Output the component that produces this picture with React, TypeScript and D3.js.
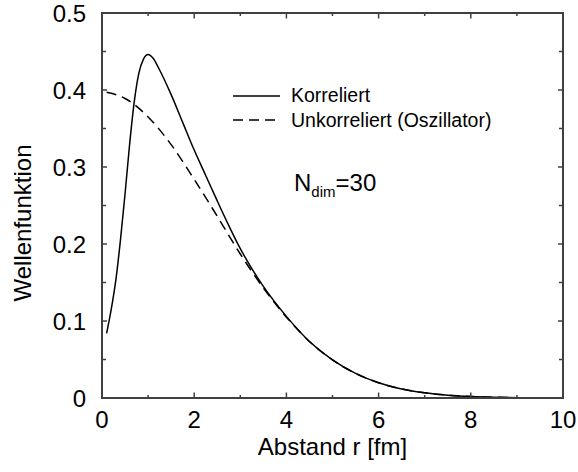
import React from "react";
import * as d3 from "d3";

const rCorr = [0.1, 0.2, 0.3, 0.4, 0.5, 0.6, 0.7, 0.8, 0.9, 1.0, 1.1, 1.25, 1.5, 1.75, 2.0, 2.25, 2.5, 2.75, 3.0, 3.25, 3.5, 4.0, 4.5, 5.0, 5.5, 6.0, 6.5, 7.0, 7.5, 8.0, 8.5, 9.0, 9.5, 10.0];
const psiCorr = [0.084, 0.115, 0.153, 0.205, 0.265, 0.33, 0.385, 0.422, 0.44, 0.446, 0.442, 0.426, 0.394, 0.358, 0.322, 0.289, 0.256, 0.224, 0.194, 0.168, 0.145, 0.106, 0.0734, 0.0494, 0.0319, 0.0198, 0.0118, 0.0067, 0.0037, 0.0019, 0.00096, 0.00046, 0.0002, 0.0001];

const rOsc = [0.1, 0.5, 1.0, 1.5, 2.0, 2.5, 3.0, 3.5, 4.0, 4.5, 5.0, 5.5, 6.0, 6.5, 7.0, 7.5, 8.0, 8.5, 9.0, 9.5, 10.0];
const psiOsc = [0.397, 0.389, 0.365, 0.329, 0.284, 0.236, 0.187, 0.143, 0.105, 0.0734, 0.0494, 0.0319, 0.0198, 0.0118, 0.0067, 0.0037, 0.0019, 0.00096, 0.00046, 0.0002, 0.0001];

const xTicks = [0, 1, 2, 3, 4, 5, 6, 7, 8, 9, 10];
const xLabels = [0, 2, 4, 6, 8, 10];
const yTicks = [0, 0.05, 0.1, 0.15, 0.2, 0.25, 0.3, 0.35, 0.4, 0.45, 0.5];
const yLabels = ["0", "0.1", "0.2", "0.3", "0.4", "0.5"];
const legendLabels = ["Korreliert", "Unkorreliert (Oszillator)"];

const W = 578, H = 472;
const L = 102, R = 563, T = 13, B = 398;
const font = "'Liberation Sans', Arial, Helvetica, sans-serif";
const axisColor = "#404040";

export default function App() {
  const x = d3.scaleLinear().domain([0, 10]).range([L, R]);
  const y = d3.scaleLinear().domain([0, 0.5]).range([B, T]);
  const line = d3.line<[number, number]>().x(d => x(d[0])).y(d => y(d[1])).curve(d3.curveMonotoneX);
  const corr = line(rCorr.map((r, i) => [r, psiCorr[i]] as [number, number])) || "";
  const osc = line(rOsc.map((r, i) => [r, psiOsc[i]] as [number, number])) || "";

  return (
    <svg width={W} height={H} style={{ position: "absolute", left: 0, top: 0, background: "#fff" }} fontFamily={font}>
      <path d={corr} fill="none" stroke="#000" strokeWidth={1.5} />
      <path d={osc} fill="none" stroke="#000" strokeWidth={1.5} strokeDasharray="10,6" />
      {xTicks.map(t => {
        const len = t % 2 === 0 ? 5.5 : 3;
        return (
          <g key={"xt" + t}>
            <line x1={x(t)} x2={x(t)} y1={B} y2={B - len} stroke={axisColor} strokeWidth={1.5} />
            <line x1={x(t)} x2={x(t)} y1={T} y2={T + len} stroke={axisColor} strokeWidth={1.5} />
          </g>
        );
      })}
      {yTicks.map((t, i) => {
        const len = i % 2 === 0 ? 5 : 4;
        return (
          <g key={"yt" + i}>
            <line x1={L} x2={L + len} y1={y(t)} y2={y(t)} stroke={axisColor} strokeWidth={1.5} />
            <line x1={R} x2={R - len} y1={y(t)} y2={y(t)} stroke={axisColor} strokeWidth={1.5} />
          </g>
        );
      })}
      <rect x={L} y={T} width={R - L} height={B - T} fill="none" stroke={axisColor} strokeWidth={2} />
      {xLabels.map(t => (
        <text key={"xl" + t} x={x(t)} y={428} textAnchor="middle" fontSize={24} fill="#000">{t}</text>
      ))}
      {yLabels.map((s, i) => (
        <text key={"yl" + i} x={86} y={y(i * 0.1) + 8.5} textAnchor="end" fontSize={24} fill="#000">{s}</text>
      ))}
      <text x={(L + R) / 2} y={455} textAnchor="middle" fontSize={24} fill="#000">Abstand r [fm]</text>
      <text transform={`translate(31,223) rotate(-90)`} textAnchor="middle" fontSize={24} fill="#000">Wellenfunktion</text>
      <line x1={233} x2={280} y1={96} y2={96} stroke="#000" strokeWidth={1.5} />
      <text x={291} y={102} fontSize={19.5} fill="#000">{legendLabels[0]}</text>
      <line x1={233} x2={280} y1={120} y2={120} stroke="#000" strokeWidth={1.5} strokeDasharray="10,6" />
      <text x={291} y={126.5} fontSize={19.5} fill="#000">{legendLabels[1]}</text>
      <text x={294} y={191} fontSize={24} fill="#000">
        N<tspan fontSize={15} dy={6}>dim</tspan><tspan dy={-6}>=30</tspan>
      </text>
    </svg>
  );
}
